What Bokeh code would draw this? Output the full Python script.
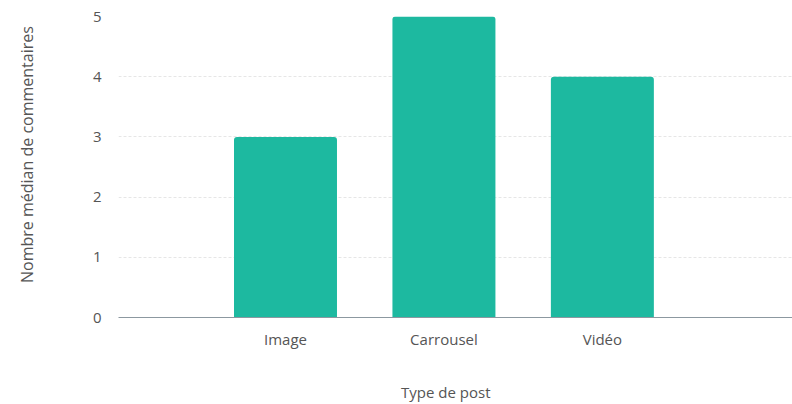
from bokeh.plotting import figure
from bokeh.models import Range1d, FixedTicker, ColumnDataSource
from bokeh.embed import file_html
from bokeh.resources import INLINE

categories = ["Image", "Carrousel", "Vidéo"]
positions = [1, 2, 3]
values = [3, 5, 4]
y_ticks = [0, 1, 2, 3, 4, 5]
x_title = "Type de post"
y_title = "Nombre médian de commentaires"

FONT = "Open Sans"
TEXT = "#555555"
BAR = "#1DB9A0"
NBSP = "\u00a0"

src = ColumnDataSource(dict(x=positions, top=values))

p = figure(width=792, height=404, output_backend="svg", toolbar_location=None,
           x_range=Range1d(-0.054, 4.2), y_range=Range1d(0, 5),
           min_border_left=118, min_border_right=0, min_border_top=16, min_border_bottom=87)
p.outline_line_color = None
p.background_fill_color = "white"

p.vbar(x="x", top="top", width=0.65, source=src, fill_color=BAR, line_color=None,
       border_radius=(3, 3, 0, 0))

p.xaxis.ticker = FixedTicker(ticks=positions)
p.xaxis.major_label_overrides = {pos: c for pos, c in zip(positions, categories)}
p.yaxis.ticker = FixedTicker(ticks=y_ticks)

for ax in (p.xaxis, p.yaxis):
    ax.major_tick_line_color = None
    ax.minor_tick_line_color = None
    ax.major_tick_out = 0
    ax.major_tick_in = 0
    ax.major_label_text_font = FONT
    ax.major_label_text_font_size = "15px"
    ax.major_label_text_color = TEXT
    ax.axis_label_text_font = FONT
    ax.axis_label_text_font_style = "normal"
    ax.axis_label_text_color = TEXT
p.yaxis.axis_line_color = None
p.xaxis.axis_line_color = "#8c98a0"
p.xaxis.axis_line_width = 1
p.yaxis.major_label_standoff = 17
p.xaxis.major_label_standoff = 11

p.xaxis.axis_label = x_title + NBSP * 5
p.xaxis.axis_label_text_font_size = "15px"
p.xaxis.axis_label_standoff = 30
p.yaxis.axis_label = NBSP * 6 + y_title
p.yaxis.axis_label_text_font_size = "16px"
p.yaxis.axis_label_standoff = 52

p.xgrid.grid_line_color = None
p.ygrid.grid_line_color = "#e6e6e6"
p.ygrid.grid_line_dash = "3 2"

open("out.html", "w").write(file_html(p, INLINE))
